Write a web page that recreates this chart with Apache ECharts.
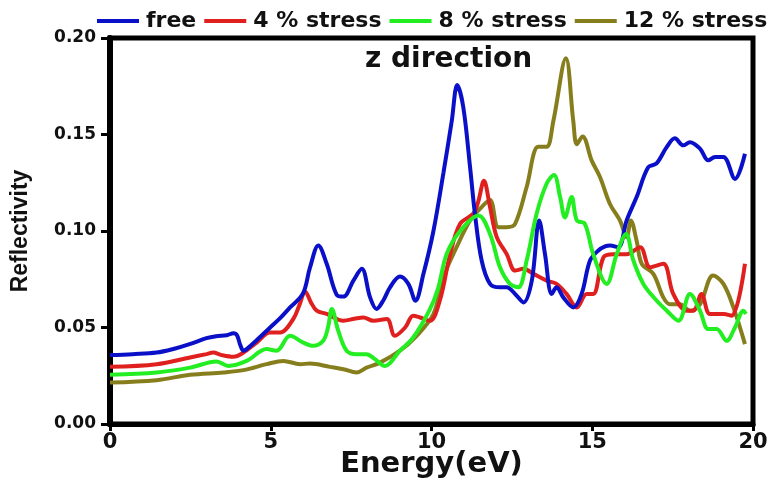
<!DOCTYPE html>
<html><head><meta charset="utf-8">
<script src="https://cdn.jsdelivr.net/npm/echarts@6/dist/echarts.min.js"></script>
<style>html,body{margin:0;padding:0;background:#fff}#c{width:777px;height:483px}</style>
</head><body><div id="c"></div>
<script>
var seriesNames = ['free', '4 % stress', '8 % stress', '12 % stress'];
var xTicks = [0, 5, 10, 15, 20];
var yTicks = ['0.00', '0.05', '0.10', '0.15', '0.20'];

var freeData = [[0,0.0357],[0.7,0.0362],[1.45,0.037],[2.0,0.039],[2.5,0.0415],[3.0,0.0445],[3.3,0.0455],[3.63,0.046],[3.84,0.047],[3.95,0.046],[4.05,0.041],[4.15,0.038],[4.25,0.0388],[4.6,0.044],[4.98,0.050],[5.3,0.055],[5.6,0.0604],[6.0,0.0675],[6.22,0.081],[6.48,0.0925],[6.74,0.083],[7.05,0.067],[7.26,0.066],[7.57,0.0743],[7.83,0.0804],[8.09,0.0656],[8.29,0.0596],[8.5,0.064],[8.71,0.0708],[9.02,0.0764],[9.28,0.0726],[9.5,0.0639],[9.75,0.0778],[10.06,0.100],[10.37,0.130],[10.63,0.157],[10.8,0.1756],[10.99,0.164],[11.2,0.133],[11.35,0.109],[11.56,0.0847],[11.82,0.0726],[12.13,0.0708],[12.34,0.0708],[12.6,0.0674],[12.86,0.063],[13.12,0.0743],[13.35,0.1055],[13.53,0.088],[13.74,0.0674],[13.89,0.0708],[14.1,0.0656],[14.41,0.0604],[14.67,0.0674],[14.93,0.0847],[15.19,0.0899],[15.4,0.092],[15.55,0.0925],[15.81,0.0916],[16.07,0.1055],[16.38,0.1176],[16.74,0.133],[17.0,0.135],[17.32,0.1436],[17.57,0.148],[17.83,0.1444],[18.04,0.146],[18.35,0.1427],[18.61,0.1366],[18.82,0.1384],[19.08,0.1384],[19.44,0.127],[19.75,0.140]];

var stress4Data = [[0,0.0296],[1.45,0.031],[2.49,0.0345],[3.0,0.0362],[3.21,0.037],[3.47,0.0357],[3.84,0.0348],[4.15,0.037],[4.56,0.0422],[4.98,0.0474],[5.29,0.0474],[5.7,0.0544],[5.9,0.062],[6.07,0.0687],[6.25,0.063],[6.43,0.0587],[6.74,0.057],[7.26,0.0535],[7.6,0.0545],[7.88,0.0552],[8.19,0.0535],[8.61,0.0544],[8.86,0.0457],[9.18,0.05],[9.43,0.0561],[9.64,0.0552],[9.95,0.0535],[10.26,0.064],[10.58,0.088],[10.89,0.1037],[11.3,0.109],[11.45,0.115],[11.63,0.126],[11.82,0.1124],[12.03,0.0968],[12.34,0.088],[12.6,0.0795],[12.86,0.0804],[13.17,0.0778],[13.58,0.0743],[13.89,0.0726],[14.2,0.0674],[14.52,0.0604],[14.83,0.0674],[15.03,0.0674],[15.35,0.0864],[15.66,0.088],[16.07,0.088],[16.49,0.0916],[16.8,0.0812],[17.21,0.083],[17.52,0.0674],[17.94,0.0587],[18.14,0.0587],[18.4,0.0674],[18.66,0.057],[19.08,0.057],[19.33,0.0561],[19.75,0.083]];

var stress8Data = [[0,0.0255],[1.45,0.0267],[2.49,0.0292],[3.32,0.0324],[3.68,0.0301],[4.25,0.0327],[4.87,0.0388],[5.18,0.038],[5.6,0.0457],[6.01,0.0422],[6.32,0.0405],[6.63,0.0431],[6.78,0.050],[6.9,0.0596],[7.1,0.0483],[7.36,0.038],[7.67,0.0362],[7.98,0.0362],[8.24,0.0336],[8.55,0.0301],[9.02,0.038],[9.43,0.0448],[9.93,0.0587],[10.2,0.070],[10.47,0.088],[10.89,0.100],[11.46,0.108],[11.82,0.0985],[12.13,0.0812],[12.44,0.0726],[12.7,0.0708],[12.96,0.0847],[13.27,0.109],[13.58,0.1245],[13.81,0.129],[14.0,0.1176],[14.15,0.107],[14.36,0.1176],[14.52,0.1055],[14.77,0.1037],[15.03,0.088],[15.45,0.0726],[15.76,0.088],[16.05,0.0985],[16.28,0.0847],[16.59,0.0726],[17.0,0.064],[17.32,0.0587],[17.68,0.0535],[18.04,0.0674],[18.35,0.0587],[18.61,0.0492],[18.87,0.0492],[19.18,0.0431],[19.44,0.050],[19.7,0.0587],[19.78,0.057]];

var stress12Data = [[0,0.0215],[1.45,0.0227],[2.49,0.0255],[3.53,0.0267],[4.15,0.0279],[4.87,0.031],[5.39,0.0327],[5.91,0.031],[6.22,0.0313],[6.84,0.0296],[7.26,0.0284],[7.67,0.0267],[7.98,0.0292],[8.4,0.0318],[9.02,0.038],[9.5,0.045],[10.06,0.057],[10.37,0.076],[10.78,0.0916],[11.2,0.1055],[11.56,0.1124],[11.82,0.116],[12.08,0.102],[12.34,0.102],[12.6,0.1037],[12.96,0.1228],[13.32,0.1436],[13.58,0.1436],[13.79,0.157],[14.18,0.1895],[14.41,0.157],[14.52,0.145],[14.7,0.149],[14.98,0.1366],[15.24,0.128],[15.55,0.114],[15.86,0.1055],[16.07,0.0968],[16.2,0.1055],[16.38,0.095],[16.54,0.083],[16.9,0.0778],[17.21,0.0656],[17.42,0.062],[17.73,0.062],[18.04,0.0587],[18.35,0.062],[18.76,0.0769],[19.08,0.0726],[19.39,0.0604],[19.75,0.0414]];

var colors = ['#0a10c8', '#e0201e', '#22ee22', '#867e1c'];
var allData = [freeData, stress4Data, stress8Data, stress12Data];
var zOrder = [3, 2, 4, 1];

var FONT = 'DejaVu Sans';
var chart = echarts.init(document.getElementById('c'), null, {renderer: 'canvas'});
chart.setOption({
  animation: false,
  backgroundColor: '#fff',
  title: {
    text: 'z direction', left: 360, top: 41,
    textStyle: {fontFamily: FONT, fontWeight: 'bold', fontSize: 28, color: '#111'}
  },
  legend: {
    data: seriesNames.map(function (n) { return {name: n, icon: 'rect'}; }),
    left: 92, top: 5, itemWidth: 42, itemHeight: 4, itemGap: 8,
    textStyle: {fontFamily: FONT, fontWeight: 'bold', fontSize: 22, color: '#111', padding: [0, 0, 0, 2]}
  },
  grid: {left: 110, right: 24, top: 38, bottom: 59, show: true, borderColor: '#000', borderWidth: 5,
    outerBoundsMode: 'none', containLabel: false},
  xAxis: {
    type: 'value', min: 0, max: 20, interval: 5,
    name: 'Energy(eV)', nameLocation: 'middle', nameGap: 26, nameMoveOverlap: false,
    nameTextStyle: {fontFamily: FONT, fontWeight: 'bold', fontSize: 29, color: '#111'},
    axisLine: {lineStyle: {color: '#000', width: 5}},
    axisTick: {lineStyle: {color: '#000', width: 3}, length: 7},
    axisLabel: {fontFamily: FONT, fontWeight: 'bold', fontSize: 21, color: '#111', margin: 8,
      formatter: function (v) { return xTicks.indexOf(v) >= 0 ? String(v) : ''; }},
    splitLine: {show: false}
  },
  yAxis: {
    type: 'value', min: 0, max: 0.2, interval: 0.05,
    name: 'Reflectivity', nameLocation: 'middle', nameGap: 78, nameMoveOverlap: false,
    nameTextStyle: {fontFamily: 'Liberation Sans', fontWeight: 'bold', fontSize: 23, color: '#111'},
    axisLine: {lineStyle: {color: '#000', width: 6}},
    axisTick: {lineStyle: {color: '#000', width: 3}, length: 9},
    axisLabel: {fontFamily: FONT, fontWeight: 'bold', fontSize: 17, color: '#111', margin: 14,
      formatter: function (v) { return yTicks[Math.round(v / 0.05)]; }},
    splitLine: {show: false}
  },
  series: seriesNames.map(function (n, i) {
    return {
      name: n, type: 'line', data: allData[i], z: zOrder[i],
      showSymbol: false, smooth: 0.35,
      lineStyle: {color: colors[i], width: 4},
      itemStyle: {color: colors[i]}
    };
  })
});
</script></body></html>
